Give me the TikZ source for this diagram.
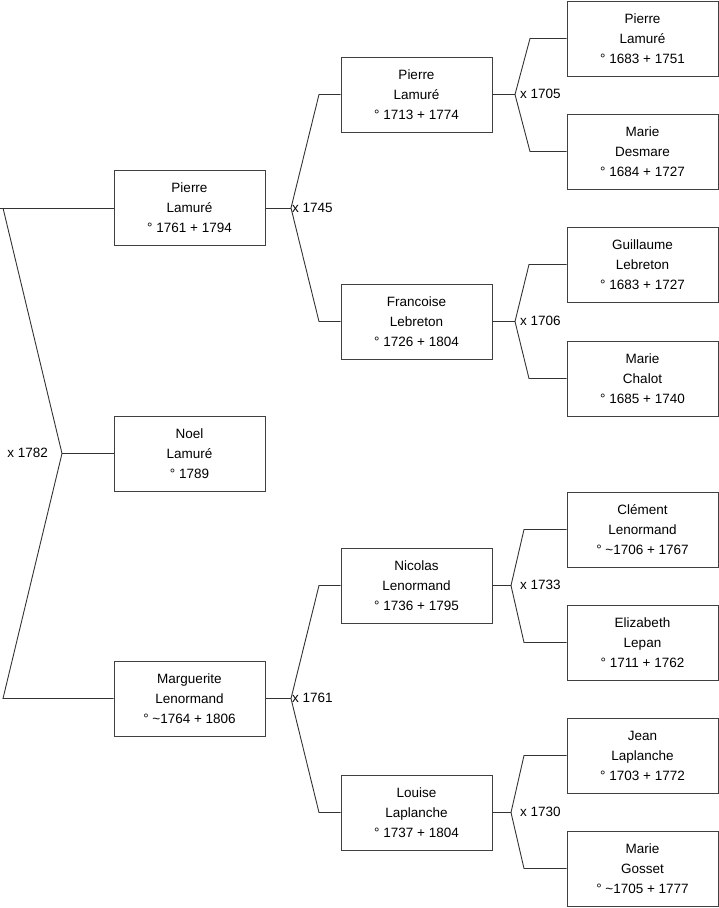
\documentclass[tikz,border=0pt]{standalone}
\usepackage{fontspec}
\setmainfont{Liberation Sans}
\begin{document}
\begin{tikzpicture}[x=1pt,y=-1pt,
  pbox/.style={draw=black!75, line width=1pt, fill=white, rectangle,
    minimum width=151pt, minimum height=75pt, inner sep=0pt, align=center,
    font=\fontsize{13.5}{20}\selectfont, text=black},
  conn/.style={draw=black!80, line width=0.9pt},
  lbl/.style={font=\fontsize{13.5}{16}\selectfont, inner sep=0pt, text=black}]
\useasboundingbox (0,0) rectangle (719,908);
% level 1
\node[pbox] (a1) at (189.5,208) {Pierre\\Lamuré\\° 1761 + 1794};
\node[pbox] (a2) at (189.5,453.5) {Noel\\Lamuré\\° 1789};
\node[pbox] (a3) at (189.5,698.5) {Marguerite\\Lenormand\\° \textasciitilde1764 + 1806};
% level 2
\node[pbox] (b1) at (416.5,94.5) {Pierre\\Lamuré\\° 1713 + 1774};
\node[pbox] (b2) at (416.5,321.5) {Francoise\\Lebreton\\° 1726 + 1804};
\node[pbox] (b3) at (416.5,585.5) {Nicolas\\Lenormand\\° 1736 + 1795};
\node[pbox] (b4) at (416.5,812.5) {Louise\\Laplanche\\° 1737 + 1804};
% level 3
\node[pbox] (c1) at (642.5,38.5) {Pierre\\Lamuré\\° 1683 + 1751};
\node[pbox] (c2) at (642.5,151.5) {Marie\\Desmare\\° 1684 + 1727};
\node[pbox] (c3) at (642.5,264.5) {Guillaume\\Lebreton\\° 1683 + 1727};
\node[pbox] (c4) at (642.5,378.5) {Marie\\Chalot\\° 1685 + 1740};
\node[pbox] (c5) at (642.5,529.5) {Clément\\Lenormand\\° \textasciitilde1706 + 1767};
\node[pbox] (c6) at (642.5,642.5) {Elizabeth\\Lepan\\° 1711 + 1762};
\node[pbox] (c7) at (642.5,755.5) {Jean\\Laplanche\\° 1703 + 1772};
\node[pbox] (c8) at (642.5,868.5) {Marie\\Gosset\\° \textasciitilde1705 + 1777};
% root junction
\coordinate (j0) at (62,453.5);
\coordinate (t0) at (3,208);
\coordinate (u0) at (3,698.5);
\coordinate (s0) at (0,208);
\draw[conn] (a1.west) -- (s0);
\draw[conn] (t0) -- (j0) -- (u0) -- (a3.west);
\draw[conn] (j0) -- (a2.west);
\node[lbl, anchor=east] (l0) at (48,453) {x 1782};
% level 1 -> 2
\coordinate (j1) at (291,208);
\draw[conn] (a1.east) -- (j1);
\draw[conn] (b1.west) -- (319,94.5) -- (j1) -- (319,321.5) -- (b2.west);
\node[lbl, anchor=west] (l1) at (292,207.5) {x 1745};
\coordinate (j2) at (291,698.5);
\draw[conn] (a3.east) -- (j2);
\draw[conn] (b3.west) -- (319,585.5) -- (j2) -- (319,812.5) -- (b4.west);
\node[lbl, anchor=west] (l2) at (292,698) {x 1761};
% level 2 -> 3
\coordinate (j3) at (515,94.5);
\draw[conn] (b1.east) -- (j3);
\draw[conn] (c1.west) -- (530,38.5) -- (j3) -- (530,151.5) -- (c2.west);
\node[lbl, anchor=west] (l3) at (520,94) {x 1705};
\coordinate (j4) at (515,321.5);
\draw[conn] (b2.east) -- (j4);
\draw[conn] (c3.west) -- (529,264.5) -- (j4) -- (529,378.5) -- (c4.west);
\node[lbl, anchor=west] (l4) at (520,321) {x 1706};
\coordinate (j5) at (511,585.5);
\draw[conn] (b3.east) -- (j5);
\draw[conn] (c5.west) -- (524,529.5) -- (j5) -- (524,642.5) -- (c6.west);
\node[lbl, anchor=west] (l5) at (520,585) {x 1733};
\coordinate (j6) at (511,812.5);
\draw[conn] (b4.east) -- (j6);
\draw[conn] (c7.west) -- (524,755.5) -- (j6) -- (524,868.5) -- (c8.west);
\node[lbl, anchor=west] (l6) at (520,812) {x 1730};
\end{tikzpicture}
\end{document}
